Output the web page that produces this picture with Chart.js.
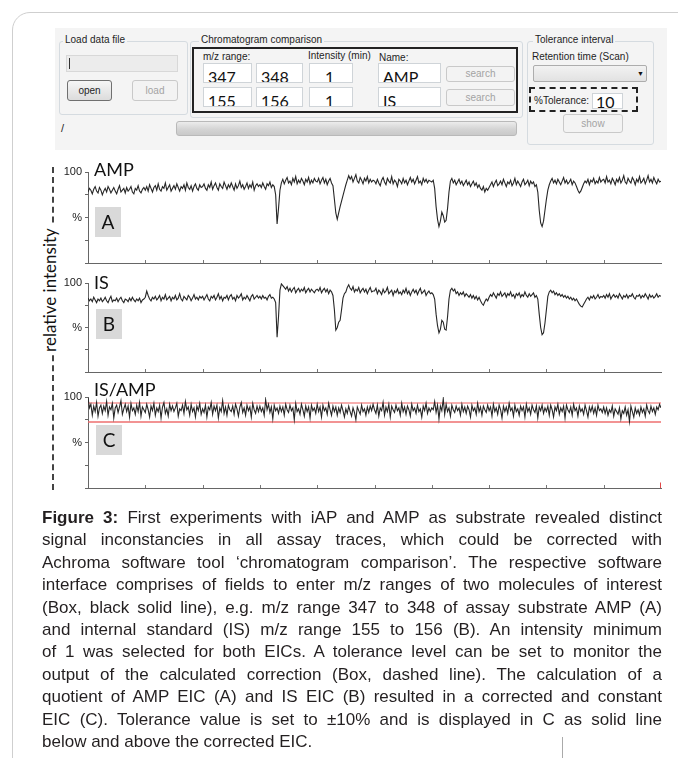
<!DOCTYPE html>
<html>
<head>
<meta charset="utf-8">
<script src="https://cdn.jsdelivr.net/npm/chart.js@4.4.1/dist/chart.umd.min.js"></script>
<style>
  body { margin: 0; width: 678px; height: 758px; background: #fff; position: relative; overflow: hidden; font-family: "Liberation Sans", Arial, sans-serif; }
  .abs { position: absolute; }
  .frame { left: 12px; top: 12px; width: 700px; height: 780px; border: 1px solid #cfcfcf; border-top-left-radius: 18px; }
  .panel { left: 55px; top: 28px; width: 612px; height: 122px; background: #f4f4f4; }
  .ui { font-size: 10px; color: #1e1e1e; white-space: nowrap; }
  .group { border: 1px solid #d5dbe0; border-radius: 3px; }
  .gtitle { background: #f4f4f4; padding: 0 2px; }
  .field { background: #fff; border: 1px solid #cfd4d8; box-sizing: border-box; font-family: Lato, "Noto Sans", sans-serif; font-size: 16px; color: #111; padding-left: 4px; line-height: 22px; overflow: hidden; }
  .btn { box-sizing: border-box; border: 1px solid #c9c9c9; border-radius: 3px; background: #f3f3f3; color: #a3a3a3; font-size: 10px; text-align: center; }
  .btn.on { border-color: #707070; background: linear-gradient(#f6f6f6, #dcdcdc); color: #1e1e1e; }
  .chart { position: absolute; left: 40px; }
  .title { font-family: Lato, "Noto Sans", sans-serif; font-size: 18px; color: #111; }
  .tag { width: 26px; height: 30px; background: #d9d9d9; font-family: Lato, "Noto Sans", sans-serif; font-size: 19px; color: #111; text-align: center; line-height: 30px; }
  .caption { left: 42px; top: 507px; width: 620px; font-size: 17px; color: #231f20; }
  .caption div { height: 22.4px; line-height: 22.4px; text-align: justify; text-align-last: justify; }
  .caption div.last { text-align-last: left; }
</style>
</head>
<body>
<div class="abs frame"></div>
<div class="abs" style="left:562px;top:737px;width:1px;height:21px;background:#aaa;"></div>

<div class="abs panel"></div>
<!-- Load data file -->
<div class="abs group" style="left:59px;top:41px;width:127px;height:72px;"></div>
<div class="abs ui gtitle" style="left:63px;top:34px;">Load data file</div>
<div class="abs" style="left:66px;top:55px;width:112px;height:17px;background:#ececec;border:1px solid #d8d8d8;box-sizing:border-box;"></div>
<div class="abs" style="left:69px;top:58px;width:1px;height:11px;background:#333;"></div>
<div class="abs btn on" style="left:67px;top:80px;width:45px;height:21px;line-height:19px;">open</div>
<div class="abs btn" style="left:132px;top:80px;width:46px;height:21px;line-height:19px;">load</div>
<div class="abs ui" style="left:61px;top:122px;font-size:11px;">/</div>
<div class="abs" style="left:176px;top:121px;width:341px;height:15px;box-sizing:border-box;border:1px solid #b9b9b9;border-radius:3px;background:linear-gradient(#ececec,#d4d4d4 55%,#c9c9c9);"></div>

<!-- Chromatogram comparison -->
<div class="abs group" style="left:190px;top:41px;width:331px;height:75px;"></div>
<div class="abs ui gtitle" style="left:199px;top:34px;">Chromatogram comparison</div>
<div class="abs" style="left:192px;top:47px;width:326px;height:66px;border:2px solid #222;box-sizing:border-box;"></div>
<div class="abs ui" style="left:203px;top:51px;">m/z range:</div>
<div class="abs ui" style="left:308px;top:50px;">Intensity (min)</div>
<div class="abs ui" style="left:379px;top:52px;">Name:</div>
<div class="abs field" style="left:203px;top:63px;width:49px;height:20px;padding-top:2px;">347</div>
<div class="abs field" style="left:256px;top:63px;width:47px;height:20px;padding-top:2px;">348</div>
<div class="abs field" style="left:309px;top:63px;width:44px;height:20px;padding-top:2px;padding-left:15px;">1</div>
<div class="abs field" style="left:378px;top:63px;width:63px;height:20px;padding-top:2px;">AMP</div>
<div class="abs btn" style="left:446px;top:66px;width:69px;height:16px;line-height:14px;">search</div>
<div class="abs field" style="left:203px;top:87px;width:49px;height:20px;padding-top:2px;">155</div>
<div class="abs field" style="left:256px;top:87px;width:47px;height:20px;padding-top:2px;">156</div>
<div class="abs field" style="left:309px;top:87px;width:44px;height:20px;padding-top:2px;padding-left:15px;">1</div>
<div class="abs field" style="left:378px;top:87px;width:63px;height:20px;padding-top:2px;">IS</div>
<div class="abs btn" style="left:446px;top:89px;width:69px;height:17px;line-height:15px;">search</div>

<!-- Tolerance interval -->
<div class="abs group" style="left:527px;top:41px;width:125px;height:102px;"></div>
<div class="abs ui gtitle" style="left:533px;top:34px;">Tolerance interval</div>
<div class="abs ui" style="left:532px;top:51px;">Retention time (Scan)</div>
<div class="abs" style="left:533px;top:65px;width:114px;height:17px;box-sizing:border-box;border:1px solid #adadad;border-radius:2px;background:linear-gradient(#f2f2f2,#e2e2e2);"></div>
<div class="abs" style="left:637px;top:70px;font-size:7px;color:#111;">&#9660;</div>
<div class="abs" style="left:529px;top:87px;width:109px;height:25px;box-sizing:border-box;border:2px dashed #222;"></div>
<div class="abs ui" style="left:534px;top:95px;">%Tolerance:</div>
<div class="abs field" style="left:592px;top:93px;width:31px;height:16px;line-height:16px;padding-left:3px;">10</div>
<div class="abs btn" style="left:563px;top:114px;width:60px;height:19px;line-height:17px;">show</div>

<!-- side label -->
<div class="abs" style="left:52px;top:167px;height:323px;border-left:2px dashed #444;"></div>
<div class="abs" style="left:49px;top:290px;transform:translate(-50%,-50%) rotate(-90deg);background:#fff;padding:0 2px;font-family:Lato,'Noto Sans',sans-serif;font-size:17px;color:#111;white-space:nowrap;">relative intensity</div>

<!-- charts -->
<div class="chart" style="top:160px;"><canvas id="chartA" width="627" height="113"></canvas></div>
<div class="chart" style="top:271px;"><canvas id="chartB" width="627" height="111"></canvas></div>
<div class="chart" style="top:385px;"><canvas id="chartC" width="627" height="113"></canvas></div>

<div class="abs title" style="left:94px;top:158px;">AMP</div>
<div class="abs title" style="left:94px;top:271px;">IS</div>
<div class="abs title" style="left:94px;top:378px;">IS/AMP</div>
<div class="abs tag" style="left:95px;top:207px;">A</div>
<div class="abs tag" style="left:96px;top:309px;">B</div>
<div class="abs tag" style="left:96px;top:425px;">C</div>

<div class="abs caption">
  <div><b>Figure 3:</b> First experiments with iAP and AMP as substrate revealed distinct</div>
  <div>signal inconstancies in all assay traces, which could be corrected with</div>
  <div>Achroma software tool ‘chromatogram comparison’. The respective software</div>
  <div>interface comprises of fields to enter m/z ranges of two molecules of interest</div>
  <div>(Box, black solid line), e.g. m/z range 347 to 348 of assay substrate AMP (A)</div>
  <div>and internal standard (IS) m/z range 155 to 156 (B). An intensity minimum</div>
  <div>of 1 was selected for both EICs. A tolerance level can be set to monitor the</div>
  <div>output of the calculated correction (Box, dashed line). The calculation of a</div>
  <div>quotient of AMP EIC (A) and IS EIC (B) resulted in a corrected and constant</div>
  <div>EIC (C). Tolerance value is set to ±10% and is displayed in C as solid line</div>
  <div class="last">below and above the corrected EIC.</div>
</div>

<script>
// scan time axis, one sample every quarter minute
const scanStep = 0.25;
const timeTicks = [5, 15, 25, 35, 45, 55, 65, 75, 85, 95];
const timeLabels = ['5.00', '15.00', '25.00', '35.00', '45.00', '55.00', '65.00', '75.00', '85.00', '95.00'];
const minorTicks = [10, 20, 30, 40, 50, 60, 70, 80, 90];

// AMP trace (A), relative intensity %, one row = 10 min
const ampTrace = [
  78, 82, 80, 76, 81, 84, 79, 77, 83, 80, 75, 79, 82, 78, 84, 81, 77, 80, 83, 79,
  76, 81, 85, 78, 80, 82, 77, 83, 79, 81, 84, 78, 76, 82, 80, 85, 79, 77, 81, 83,
  80, 84, 79, 86, 82, 78, 83, 85, 80, 87, 81, 79, 84, 82, 88, 80, 83, 86, 79, 82,
  85, 81, 87, 83, 79, 84, 82, 86, 80, 88, 83, 81, 85, 79, 84, 87, 82, 80, 86, 83,
  84, 87, 82, 80, 86, 83, 89, 81, 85, 88, 83, 80, 87, 84, 82, 89, 85, 81, 86, 83,
  88, 84, 80, 87, 82, 85, 90, 83, 86, 81, 84, 88, 82, 86, 83, 89, 80, 85, 87, 84,
  86, 83, 88, 84, 81, 87, 85, 89, 83, 86, 84, 75, 43, 60, 80, 88, 92, 87, 91, 94,
  88, 90, 86, 93, 89, 95, 87, 91, 88, 93, 90, 86, 92, 89, 94, 87, 91, 88, 93, 90,
  89, 93, 87, 91, 94, 88, 92, 86, 90, 93, 88, 85, 70, 55, 48, 55, 62, 68, 74, 80,
  86, 91, 96, 92, 95, 89, 93, 97, 90, 88, 94, 91, 87, 93, 90, 95, 88, 92, 89, 91,
  90, 87, 92, 88, 85, 91, 94, 89, 86, 93, 90, 88, 95, 87, 91, 89, 84, 92, 90, 87,
  93, 88, 91, 86, 90, 94, 89, 92, 87, 91, 95, 88, 90, 86, 93, 89, 92, 88, 91, 90,
  89, 91, 82, 62, 48, 40, 46, 56, 52, 45, 47, 60, 78, 90, 93, 88, 91, 86, 89, 92,
  87, 90, 85, 88, 91, 86, 89, 84, 87, 90, 85, 88, 83, 86, 82, 80, 84, 78, 82, 80,
  83, 86, 89, 84, 88, 91, 85, 87, 90, 86, 92, 88, 84, 89, 87, 91, 85, 88, 93, 86,
  90, 87, 84, 89, 92, 86, 88, 91, 85, 90, 87, 89, 84, 86, 78, 58, 44, 40, 46, 58,
  70, 80, 86, 90, 93, 88, 91, 87, 92, 89, 86, 90, 94, 88, 91, 87, 89, 92, 86, 90,
  88, 84, 80, 77, 79, 83, 87, 90, 88, 92, 86, 91, 89, 93, 87, 90, 88, 94, 89, 91,
  92, 88, 95, 89, 91, 87, 93, 90, 86, 92, 89, 94, 88, 91, 96, 89, 87, 93, 90, 88,
  94, 91, 86, 92, 89, 95, 88, 90, 93, 87, 91, 96, 89, 92, 88, 94, 90, 87, 92, 89,
  90
];

// internal standard trace (B)
const isTrace = [
  83, 80, 82, 79, 84, 81, 78, 82, 80, 83, 79, 81, 84, 80, 78, 82, 85, 79, 81, 80,
  83, 79, 82, 84, 80, 78, 82, 81, 79, 83, 80, 84, 81, 79, 82, 80, 83, 78, 81, 82,
  84, 91, 86, 82, 80, 84, 82, 85, 81, 83, 86, 80, 84, 82, 87, 81, 83, 85, 80, 84,
  82, 86, 81, 83, 88, 82, 80, 85, 83, 81, 86, 84, 80, 83, 87, 82, 84, 81, 85, 83,
  85, 81, 84, 87, 82, 80, 85, 83, 86, 81, 84, 88, 82, 85, 80, 84, 83, 86, 81, 85,
  87, 82, 84, 80, 86, 83, 85, 88, 81, 84, 82, 86, 83, 80, 85, 87, 82, 84, 86, 83,
  85, 82, 86, 83, 84, 81, 85, 87, 83, 84, 82, 78, 39, 62, 92, 99, 97, 95, 93, 96,
  91, 94, 90, 93, 95, 89, 92, 94, 90, 93, 91, 95, 89, 92, 94, 90, 93, 91, 89, 92,
  93, 91, 95, 89, 92, 94, 90, 93, 88, 92, 90, 86, 70, 47, 50, 56, 58, 70, 83, 88,
  90, 95, 98, 94, 92, 96, 90, 93, 91, 95, 89, 92, 94, 90, 93, 88, 92, 95, 90, 91,
  91, 94, 88, 92, 90, 87, 93, 89, 91, 95, 88, 90, 92, 86, 91, 89, 93, 88, 90, 87,
  92, 89, 94, 88, 91, 86, 90, 93, 89, 92, 87, 91, 94, 88, 90, 92, 86, 89, 91, 88,
  89, 87, 82, 65, 52, 44, 48, 58, 56, 48, 47, 62, 82, 92, 94, 91, 93, 88, 90, 86,
  89, 87, 90, 85, 88, 86, 84, 87, 83, 86, 82, 85, 81, 84, 80, 77, 75, 79, 82, 80,
  84, 87, 85, 89, 86, 83, 88, 86, 90, 85, 87, 89, 84, 88, 86, 90, 85, 87, 83, 88,
  86, 89, 84, 87, 85, 90, 86, 84, 88, 85, 87, 89, 84, 86, 82, 65, 50, 42, 44, 55,
  70, 85, 90, 92, 89, 91, 87, 89, 86, 88, 85, 87, 84, 86, 83, 85, 82, 84, 81, 83,
  80, 82, 79, 76, 74, 73, 76, 79, 82, 84, 81, 85, 83, 86, 82, 84, 87, 83, 85, 84,
  86, 83, 87, 84, 88, 82, 85, 87, 84, 86, 83, 88, 85, 82, 86, 84, 87, 83, 86, 85,
  88, 84, 82, 86, 85, 87, 83, 86, 84, 88, 85, 82, 87, 84, 86, 83, 85, 88, 84, 86,
  85
];

// corrected quotient IS/AMP (C)
const ratioTrace = [
  99, 88, 92, 80, 90, 84, 94, 79, 88, 91, 82, 90, 85, 95, 80, 89, 86, 93, 77, 88,
  91, 83, 89, 96, 81, 87, 92, 84, 90, 78, 93, 85, 88, 81, 91, 84, 94, 79, 89, 86,
  83, 92, 86, 78, 90, 85, 93, 80, 88, 84, 91, 77, 89, 94, 82, 87, 79, 92, 85, 90,
  84, 88, 93, 79, 87, 85, 91, 82, 95, 86, 89, 80, 92, 84, 88, 78, 90, 85, 93, 81,
  87, 83, 91, 78, 89, 86, 94, 81, 90, 85, 91, 77, 88, 84, 96, 82, 89, 80, 91, 86,
  84, 90, 81, 92, 87, 79, 89, 94, 83, 88, 80, 91, 85, 89, 78, 93, 86, 82, 90, 84,
  90, 84, 88, 80, 97, 86, 92, 83, 89, 76, 91, 85, 88, 82, 90, 84, 89, 80, 92, 86,
  83, 91, 85, 88, 75, 93, 84, 87, 81, 92, 86, 79, 90, 84, 89, 77, 91, 85, 88, 82,
  92, 84, 89, 78, 91, 85, 88, 81, 93, 86, 80, 90, 84, 89, 80, 88, 83, 91, 85, 78,
  87, 82, 90, 84, 79, 88, 83, 75, 89, 85, 81, 91, 84, 87, 80, 89, 83, 90, 85, 92,
  86, 82, 91, 79, 88, 85, 94, 80, 89, 84, 92, 78, 90, 86, 83, 91, 85, 88, 80, 93,
  84, 89, 81, 90, 86, 79, 92, 85, 88, 82, 91, 84, 87, 78, 90, 85, 93, 82, 88, 84,
  88, 86, 95, 83, 91, 76, 90, 85, 98, 81, 92, 84, 88, 79, 91, 86, 83, 90, 85, 88,
  80, 92, 84, 89, 82, 90, 86, 78, 91, 85, 88, 81, 93, 84, 89, 80, 90, 86, 83, 91,
  85, 89, 79, 92, 84, 88, 81, 91, 86, 77, 90, 84, 89, 82, 93, 85, 88, 79, 91, 84,
  87, 80, 90, 85, 89, 78, 92, 84, 88, 81, 91, 86, 83, 90, 77, 89, 85, 91, 82, 88,
  84, 90, 80, 91, 86, 78, 89, 85, 92, 81, 88, 84, 90, 77, 91, 86, 83, 89, 80, 92,
  85, 88, 79, 90, 84, 87, 81, 91, 85, 78, 89, 84, 90, 82, 88, 80, 91, 85, 87, 83,
  89, 82, 88, 80, 86, 83, 90, 79, 87, 84, 81, 88, 76, 85, 82, 89, 80, 86, 73, 90,
  84, 78, 88, 82, 86, 80, 89, 83, 87, 79, 91, 85, 82, 90, 84, 88, 81, 89, 86, 92,
  88
];

// +/-10 % tolerance lines drawn in C
const toleranceLow = 72.5;
const toleranceHigh = 93.4;

function toPoints(trace) {
  return trace.map((v, i) => ({ x: i * scanStep, y: v }));
}

const innerTicks = {
  id: 'innerTicks',
  afterDraw(chart) {
    const { ctx, chartArea } = chart;
    const x = chart.scales.x;
    ctx.save();
    ctx.strokeStyle = '#777';
    ctx.lineWidth = 1;
    minorTicks.forEach(v => {
      const px = Math.round(x.getPixelForValue(v)) + 0.5;
      ctx.beginPath();
      ctx.moveTo(px, chartArea.bottom);
      ctx.lineTo(px, chartArea.bottom - 3);
      ctx.stroke();
    });
    ctx.restore();
  }
};

function makeChart(id, trace, extra) {
  const datasets = [{
    data: toPoints(trace),
    borderColor: '#262626',
    borderWidth: 1.1,
    pointRadius: 0,
    tension: 0
  }].concat(extra || []);
  return new Chart(document.getElementById(id), {
    type: 'line',
    data: { datasets: datasets },
    plugins: [innerTicks],
    options: {
      responsive: false,
      animation: false,
      devicePixelRatio: 1,
      layout: { padding: { top: 12, right: 6, left: 0, bottom: 0 } },
      plugins: { legend: { display: false }, tooltip: { enabled: false } },
      scales: {
        x: {
          type: 'linear',
          min: 0,
          max: 100,
          afterBuildTicks(s) { s.ticks = timeTicks.map(v => ({ value: v })); },
          afterFit(s) { s.height = 10; },
          ticks: {
            autoSkip: false,
            maxRotation: 0,
            padding: 1,
            color: '#8a8a8a',
            font: { size: 6, family: 'Liberation Sans' },
            callback: v => timeLabels[timeTicks.indexOf(v)]
          },
          grid: { display: false },
          border: { display: true, color: '#666', width: 1 }
        },
        y: {
          min: 0,
          max: 100,
          afterFit(s) { s.width = 48; },
          ticks: {
            stepSize: 25,
            padding: 3,
            color: '#222',
            font: { size: 11, family: 'Liberation Sans' },
            callback: v => (v === 100 ? '100' : v === 50 ? '%' : '')
          },
          grid: { drawOnChartArea: false, drawTicks: true, tickLength: 3, color: '#666' },
          border: { display: true, color: '#666', width: 1 }
        }
      }
    }
  });
}

makeChart('chartA', ampTrace);
makeChart('chartB', isTrace);
makeChart('chartC', ratioTrace, [
  { data: [{ x: 0, y: toleranceHigh }, { x: 100, y: toleranceHigh }], borderColor: 'rgba(240,110,110,0.55)', borderWidth: 2, pointRadius: 0 },
  { data: [{ x: 0, y: toleranceLow }, { x: 100, y: toleranceLow }], borderColor: '#ee6f6f', borderWidth: 1.5, pointRadius: 0 },
  { data: [{ x: 100, y: 0 }, { x: 100, y: 6 }], borderColor: '#e04848', borderWidth: 2, pointRadius: 0 }
]);
</script>
</body>
</html>
